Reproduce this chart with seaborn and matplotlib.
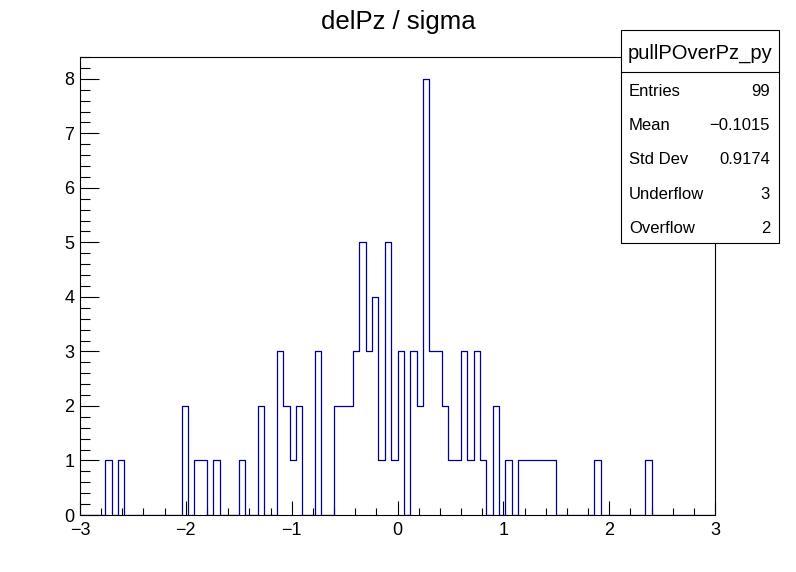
import numpy as np
import pandas as pd
import matplotlib
matplotlib.use('Agg')
import matplotlib.pyplot as plt
import seaborn as sns
from matplotlib.patches import Rectangle
from matplotlib.lines import Line2D
from matplotlib.ticker import MultipleLocator

# Histogram content: 100 bins from -3 to 3 (width 0.06)
x_min, x_max, n_bins = -3.0, 3.0, 100
counts = [0, 0, 0, 0, 1, 0, 1, 0, 0, 0,
          0, 0, 0, 0, 0, 0, 2, 0, 1, 1,
          0, 1, 0, 0, 0, 1, 0, 0, 2, 0,
          0, 3, 2, 1, 2, 0, 0, 3, 0, 0,
          2, 2, 2, 3, 5, 3, 4, 1, 5, 1,
          3, 0, 3, 2, 8, 3, 3, 2, 1, 1,
          3, 1, 3, 1, 0, 2, 0, 1, 0, 1,
          1, 1, 1, 1, 1, 0, 0, 0, 0, 0,
          0, 1, 0, 0, 0, 0, 0, 0, 0, 1,
          0, 0, 0, 0, 0, 0, 0, 0, 0, 0]

# Stats box
hist_name = 'pullPOverPz_py'
stat_names = ['Entries', 'Mean', 'Std Dev', 'Underflow', 'Overflow']
stat_values = ['99', '\u22120.1015', '0.9174', '3', '2']
title = 'delPz / sigma'

edges = np.linspace(x_min, x_max, n_bins + 1)
centers = 0.5 * (edges[:-1] + edges[1:])
df = pd.DataFrame({'x': centers, 'w': counts})

sns.set_style('ticks')
plt.rcParams['font.family'] = ['Liberation Sans', 'DejaVu Sans']
plt.rcParams['text.color'] = 'black'
plt.rcParams['xtick.color'] = 'black'
plt.rcParams['ytick.color'] = 'black'

W, H = 796, 572
fig = plt.figure(figsize=(W / 100, H / 100), dpi=100)
ax = fig.add_axes([80 / W, (H - 515) / H, (715 - 80) / W, (515 - 57) / H])

sns.histplot(data=df, x='x', weights='w', bins=n_bins, binrange=(x_min, x_max),
             element='step', fill=False, color='#000099', linewidth=0.9, ax=ax)

ax.set_xlim(x_min, x_max)
ax.set_ylim(0, 8.4)
ax.set_xlabel('')
ax.set_ylabel('')

# ROOT-like frame and ticks
for s in ax.spines.values():
    s.set_linewidth(0.8)
    s.set_color('black')
ax.xaxis.set_major_locator(MultipleLocator(1))
ax.xaxis.set_minor_locator(MultipleLocator(0.2))
ax.yaxis.set_major_locator(MultipleLocator(1))
ax.yaxis.set_minor_locator(MultipleLocator(0.2))
ax.tick_params(axis='x', which='major', direction='in', length=10, width=0.8,
               labelsize=13, pad=5, colors='black')
ax.tick_params(axis='x', which='minor', direction='in', length=5, width=0.8)
ax.tick_params(axis='y', which='major', direction='in', length=13.5, width=0.8,
               labelsize=13, pad=4, colors='black')
ax.tick_params(axis='y', which='minor', direction='in', length=7, width=0.8)
ax.tick_params(top=False, right=False, which='both')

fig.text(0.5, 1 - 22 / H, title, ha='center', va='center', fontsize=18.5)

# stats box in pixel coords
def fx(px):
    return px / W

def fy(py):
    return 1 - py / H

bx0, bx1, by0, by1, hdr = 621, 779, 30, 243, 71.5
fig.add_artist(Rectangle((fx(bx0), fy(by1)), fx(bx1) - fx(bx0), fy(by0) - fy(by1),
                         transform=fig.transFigure, facecolor='white',
                         edgecolor='black', linewidth=0.8, zorder=5))
fig.add_artist(Line2D([fx(bx0), fx(bx1)], [fy(hdr), fy(hdr)],
                      transform=fig.transFigure, color='black', linewidth=0.8, zorder=6))
fig.text(fx((bx0 + bx1) / 2), fy((by0 + hdr) / 2 + 3), hist_name, ha='center', va='center',
         fontsize=14.5, zorder=7)
row_h = (by1 - hdr) / len(stat_names)
for i, (n, v) in enumerate(zip(stat_names, stat_values)):
    yc = fy(hdr + row_h * (i + 0.5) + 2.5)
    fig.text(fx(629), yc, n, ha='left', va='center', fontsize=12, zorder=7)
    fig.text(fx(770), yc, v, ha='right', va='center', fontsize=12, zorder=7)

plt.savefig('out.png', dpi=100)
plt.close()
